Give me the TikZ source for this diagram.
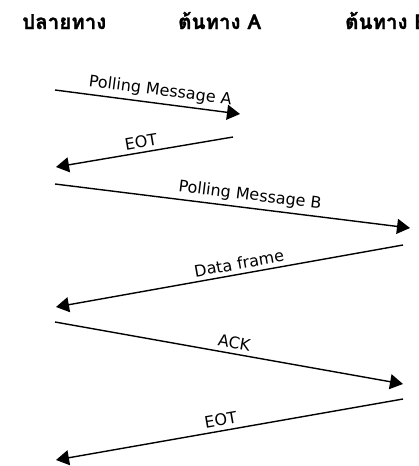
\documentclass[tikz,border=0pt]{standalone}
\usepackage{fontspec}
\setmainfont{DejaVu Sans}
\newfontfamily\thaifont[Script=Thai, BoldFeatures={FakeBold=1.2}]{Loma}
\usetikzlibrary{arrows.meta}
\tikzset{
  header/.style={anchor=base west, inner sep=0pt, font=\thaifont\bfseries\fontsize{20.5}{24}\selectfont},
  msg/.style={line width=1.4pt, -{Triangle[length=13pt, width=15pt]}},
  lbl/.style={sloped, above, inner sep=4pt, font=\fontsize{16}{18}\selectfont}
}
\begin{document}
\begin{tikzpicture}[x=1pt, y=-1pt]
  \useasboundingbox (0,0) rectangle (419,466);
  % participants
  \node[header] (dest) at (22,29) {ปลายทาง};
  \node[header] (srcA) at (178,29) {ต้นทาง A};
  \node[header] (srcB) at (345,29) {ต้นทาง B};
  % message end points
  \coordinate (d1) at (55,90);   \coordinate (a1) at (240,114);
  \coordinate (a2) at (233,137); \coordinate (d2) at (56,167);
  \coordinate (d3) at (55,184);  \coordinate (b3) at (410,228);
  \coordinate (b4) at (403,245); \coordinate (d4) at (56,307);
  \coordinate (d5) at (55,322);  \coordinate (b5) at (403,384);
  \coordinate (b6) at (403,399); \coordinate (d6) at (56,460);
  % messages
  \draw[msg] (d1) -- node[lbl, pos=0.56] (m1) {Polling Message A} (a1);
  \draw[msg] (a2) -- node[lbl, pos=0.51] (m2) {EOT} (d2);
  \draw[msg] (d3) -- node[lbl, pos=0.545] (m3) {Polling Message B} (b3);
  \draw[msg] (b4) -- node[lbl, pos=0.467] (m4) {Data frame} (d4);
  \draw[msg] (d5) -- node[lbl, pos=0.51] (m5) {ACK} (b5);
  \draw[msg] (b6) -- node[lbl, pos=0.52] (m6) {EOT} (d6);
\end{tikzpicture}
\end{document}
